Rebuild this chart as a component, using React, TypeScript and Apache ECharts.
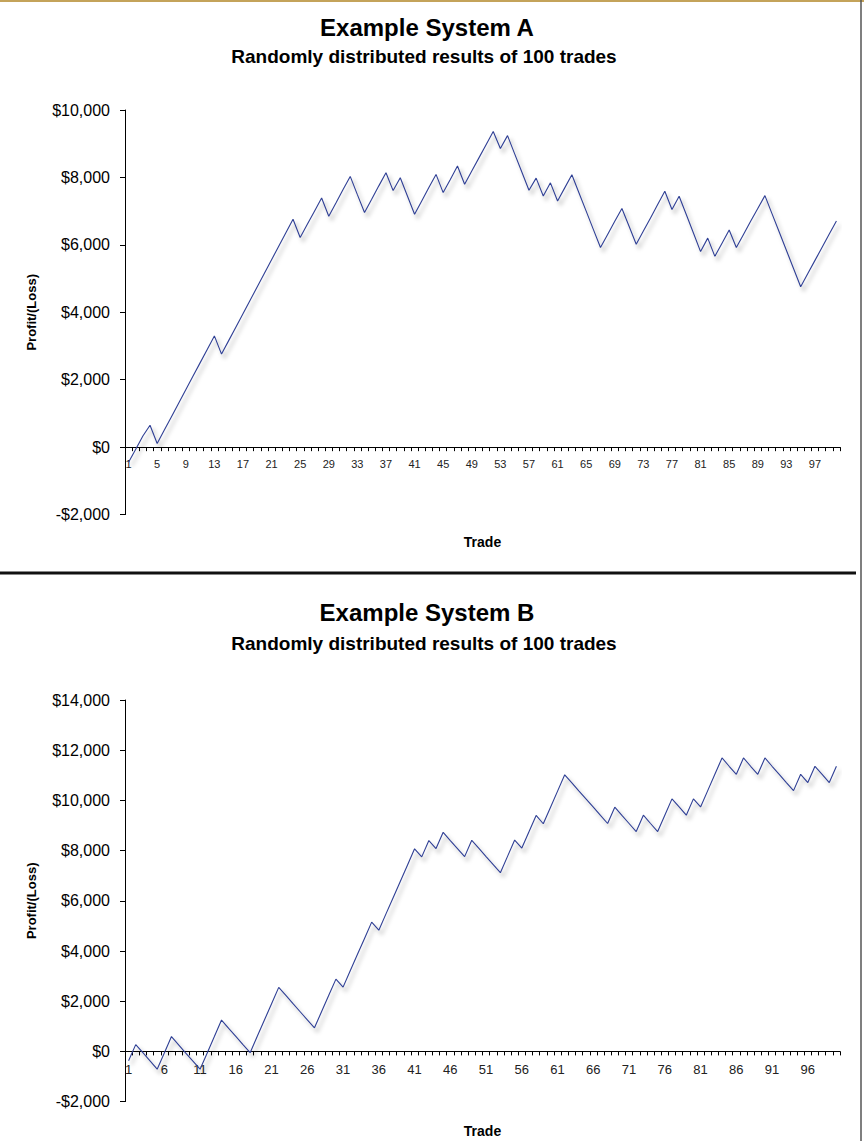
import React, { useEffect, useRef } from "react";
import * as echarts from "echarts";

const trades: string[] = Array.from({ length: 100 }, (_, i) => String(i + 1));

const systemA: number[] = [
  -450, -60, 330, 650, 110, 510, 905, 1300, 1700, 2100,
  2500, 2900, 3300, 2760, 3160, 3560, 3960, 4360, 4760, 5160,
  5560, 5960, 6360, 6760, 6220, 6610, 7000, 7390, 6850, 7240,
  7640, 8030, 7490, 6960, 7350, 7750, 8140, 7610, 7990, 7450,
  6910, 7300, 7700, 8090, 7550, 7940, 8340, 7800, 8190, 8580,
  8970, 9360, 8860, 9240, 8700, 8160, 7620, 7980, 7450, 7840,
  7300, 7690, 8080, 7540, 7000, 6460, 5920, 6310, 6700, 7080,
  6550, 6020, 6410, 6800, 7200, 7590, 7050, 7440, 6900, 6350,
  5800, 6200, 5660, 6050, 6440, 5920, 6310, 6700, 7080, 7460,
  6920, 6380, 5840, 5300, 4760, 5150, 5540, 5930, 6320, 6710,
];

const systemB: number[] = [
  -370, 270, -50, -380, -710, -60, 590, 260, -70, -390,
  -710, -60, 590, 1250, 920, 600, 270, -50, 600, 1250,
  1900, 2550, 2230, 1900, 1580, 1260, 940, 1590, 2240, 2880,
  2560, 3210, 3860, 4500, 5150, 4830, 5480, 6120, 6770, 7420,
  8070, 7750, 8400, 8080, 8730, 8400, 8080, 7760, 8410, 8090,
  7760, 7440, 7120, 7770, 8420, 8100, 8750, 9400, 9070, 9720,
  10370, 11020, 10700, 10370, 10050, 9730, 9400, 9080, 9730, 9400,
  9080, 8760, 9410, 9080, 8760, 9410, 10060, 9740, 9410, 10060,
  9740, 10390, 11040, 11690, 11360, 11040, 11690, 11360, 11040, 11690,
  11360, 11040, 10710, 10390, 11040, 10710, 11360, 11040, 10710, 11360,
];

const titleA = "Example System A";
const titleB = "Example System B";
const subtitle = "Randomly distributed results of 100 trades";
const xName = "Trade";
const yName = "Profit/(Loss)";

const FONT = '"Liberation Sans", Arial, Helvetica, sans-serif';

const money = (v: number) =>
  (v < 0 ? "-" : "") + "$" + Math.abs(v).toLocaleString("en-US");

const HA = 404.6;
const HB = 401.6;

export default function App() {
  const ref = useRef<HTMLDivElement>(null);

  useEffect(() => {
    if (!ref.current) return;
    const chart = echarts.init(ref.current, null, { renderer: "svg" });

    const lineStyle = {
      color: "#2f3f94",
      width: 1.1,
      shadowColor: "rgba(0,0,0,0.35)",
      shadowBlur: 4,
      shadowOffsetX: 3,
      shadowOffsetY: 4,
    };

    const xAxisBase = (
      gridIndex: number,
      interval: number,
      fs: number,
      margin: number,
      nameGap: number,
      offset: number
    ) => ({
      gridIndex,
      type: "category",
      data: trades,
      boundaryGap: true,
      offset,
      axisLine: { show: true, onZero: false, lineStyle: { color: "#000", width: 1 } },
      axisTick: { show: true, interval: 0, length: 4, lineStyle: { color: "#000", width: 1 } },
      axisLabel: { interval, fontSize: fs, color: "#222", margin, fontFamily: FONT },
      splitLine: { show: false },
      name: xName,
      nameLocation: "middle",
      nameGap,
      nameTextStyle: { fontWeight: "bold", fontSize: 14, color: "#000", fontFamily: FONT },
    });

    const yAxisBase = (gridIndex: number, max: number) => ({
      gridIndex,
      type: "value",
      min: -2000,
      max,
      interval: 2000,
      axisLine: { show: true, lineStyle: { color: "#000", width: 1 } },
      axisTick: { show: true, length: 5, lineStyle: { color: "#000", width: 1 } },
      axisLabel: { formatter: money, fontSize: 16, color: "#000", margin: 15, fontFamily: FONT },
      splitLine: { show: false },
      name: yName,
      nameLocation: "middle",
      nameGap: 87,
      nameTextStyle: { fontWeight: "bold", fontSize: 13, color: "#000", fontFamily: FONT },
    });

    const txt = (text: string, x: number, y: number, size: number) => ({
      type: "text",
      x,
      y,
      style: {
        text,
        fontSize: size,
        fontWeight: "bold",
        fontFamily: FONT,
        fill: "#000",
        align: "center",
        verticalAlign: "middle",
      },
    });

    chart.setOption({
      animation: false,
      backgroundColor: "#ffffff",
      textStyle: { fontFamily: FONT },
      grid: [
        { left: 125, top: 110, width: 715, height: HA },
        { left: 125, top: 700, width: 715, height: HB },
      ],
      xAxis: [
        xAxisBase(0, 3, 11, 11, 88, -HA / 6),
        xAxisBase(1, 4, 13, 12, 73, -HB / 8),
      ],
      yAxis: [yAxisBase(0, 10000), yAxisBase(1, 14000)],
      series: [
        { type: "line", xAxisIndex: 0, yAxisIndex: 0, data: systemA, symbol: "none", lineStyle, silent: true },
        { type: "line", xAxisIndex: 1, yAxisIndex: 1, data: systemB, symbol: "none", lineStyle, silent: true },
      ],
      graphic: [
        { type: "line", shape: { x1: 0, y1: 1, x2: 864, y2: 1 }, style: { stroke: "#c4a35a", lineWidth: 2 } },
        { type: "line", shape: { x1: 861, y1: 0, x2: 861, y2: 1141 }, style: { stroke: "#555", lineWidth: 1.5 } },
        { type: "line", shape: { x1: 0, y1: 573, x2: 856, y2: 573 }, style: { stroke: "#111", lineWidth: 3 } },
        txt(titleA, 427, 27, 24),
        txt(subtitle, 424, 56, 19),
        txt(titleB, 427, 612, 24),
        txt(subtitle, 424, 643, 19),
      ],
    });

    return () => chart.dispose();
  }, []);

  return (
    <div
      ref={ref}
      style={{ position: "absolute", left: 0, top: 0, width: 864, height: 1141, background: "#fff" }}
    />
  );
}
